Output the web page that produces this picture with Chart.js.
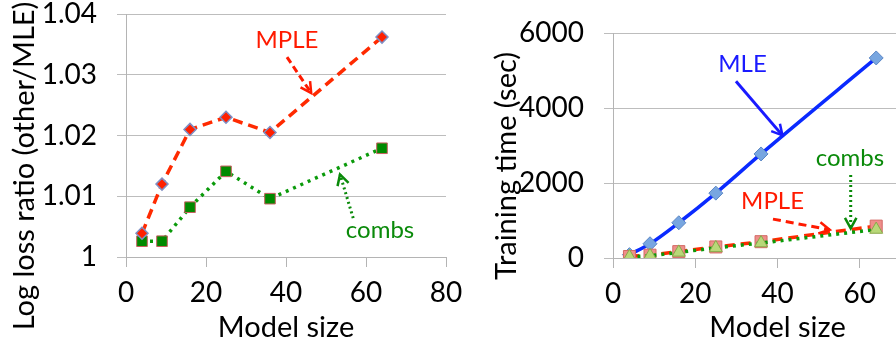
<!DOCTYPE html>
<html>
<head>
<meta charset="utf-8">
<script src="https://cdn.jsdelivr.net/npm/chart.js@4"></script>
<style>
  html, body { margin: 0; padding: 0; background: #fff; overflow: hidden; }
  #wrap { position: relative; width: 896px; height: 342px; overflow: hidden; }
  #left { position: absolute; left: 0; top: 0; }
  #right { position: absolute; left: 450px; top: 0; }
</style>
</head>
<body>
<div id="wrap">
  <canvas id="left" width="480" height="342"></canvas>
  <canvas id="right" width="510" height="342"></canvas>
</div>
<script>
// model sizes (x values, shared by both panels)
const modelSizes = [4, 9, 16, 25, 36, 64];

// left panel: log loss ratio
const ratioMPLE = [1.0039, 1.0120, 1.0210, 1.0230, 1.0205, 1.0362];
const ratioCombs = [1.0026, 1.0026, 1.0082, 1.0141, 1.0096, 1.0179];
const leftYTicks = [1, 1.01, 1.02, 1.03, 1.04];
const leftXTicks = [0, 20, 40, 60, 80];

// right panel: training time (sec)
const timeMLE = [90, 380, 940, 1730, 2775, 5335];
const timeMPLE = [40, 75, 170, 295, 435, 850];
const timeCombs = [30, 60, 150, 270, 400, 760];
const rightYTicks = [0, 2000, 4000, 6000];
const rightXTicks = [0, 20, 40, 60, 80];

const FONT = "Lato, 'Open Sans', sans-serif";

function pts(ys) {
  return modelSizes.map((x, i) => ({ x: x, y: ys[i] }));
}
function fixTicks(list) {
  return (scale) => { scale.ticks = list.map((v) => ({ value: v })); };
}

// labels with arrows, placed in data units
const leftNotes = [
  { text: "MPLE", color: "#ff1a00", at: [40.25, 1.0357], from: [40.25, 1.0329], to: [46.3, 1.0270], dash: [7, 4] },
  { text: "combs", color: "#0a8a0a", at: [63.5, 1.0044], from: [56.8, 1.0064], to: [53.5, 1.0136], dash: [2, 3] },
];
const rightNotes = [
  { text: "MLE", color: "#1a1aff", at: [31.5, 5170], from: [29.9, 4716], to: [41.2, 3270], dash: [] },
  { text: "combs", color: "#0a8a0a", at: [57.6, 2668], from: [57.8, 2216], to: [57.8, 790], dash: [2, 3] },
  { text: "MPLE", color: "#ff1a00", at: [38.8, 1506], from: [38.9, 1037], to: [52.7, 753], dash: [8, 5] },
];

const notesPlugin = {
  id: "notes",
  afterDatasetsDraw(chart) {
    const opts = chart.options.plugins.notes;
    const xs = chart.scales.x, ys = chart.scales.y;
    const ctx = chart.ctx;
    ctx.save();
    opts.items.forEach((n) => {
      const tx = xs.getPixelForValue(n.at[0]), ty = ys.getPixelForValue(n.at[1]);
      ctx.font = "24px " + FONT;
      ctx.fillStyle = n.color;
      ctx.textAlign = "center";
      ctx.textBaseline = "middle";
      ctx.fillText(n.text, tx, ty);

      const x1 = xs.getPixelForValue(n.from[0]), y1 = ys.getPixelForValue(n.from[1]);
      const x2 = xs.getPixelForValue(n.to[0]), y2 = ys.getPixelForValue(n.to[1]);
      ctx.strokeStyle = n.color;
      ctx.lineWidth = 3;
      ctx.setLineDash(n.dash);
      ctx.beginPath();
      ctx.moveTo(x1, y1);
      ctx.lineTo(x2, y2);
      ctx.stroke();
      ctx.setLineDash([]);
      const a = Math.atan2(y2 - y1, x2 - x1);
      const L = 12, w = 0.5;
      ctx.lineWidth = 2.5;
      ctx.beginPath();
      ctx.moveTo(x2 - L * Math.cos(a - w), y2 - L * Math.sin(a - w));
      ctx.lineTo(x2, y2);
      ctx.lineTo(x2 - L * Math.cos(a + w), y2 - L * Math.sin(a + w));
      ctx.stroke();
    });

    // vertical axis title, centred on the whole panel height like the original
    ctx.translate(ys.left + opts.titleOffset, chart.height / 2 - 5);
    ctx.rotate(-Math.PI / 2);
    ctx.font = "29px " + FONT;
    ctx.fillStyle = "#000";
    ctx.textAlign = "center";
    ctx.textBaseline = "middle";
    ctx.fillText(opts.yTitle, 0, 0);
    ctx.restore();
  },
};

function axes(cfg) {
  return {
    x: {
      type: "linear",
      min: cfg.xTicks[0],
      max: cfg.xTicks[cfg.xTicks.length - 1],
      afterBuildTicks: fixTicks(cfg.xTicks),
      afterFit: (s) => { s.height = cfg.xHeight; s.paddingLeft = 0; s.paddingRight = 0; },
      grid: { drawOnChartArea: false, drawTicks: true, tickLength: 10, color: "#b4b4b4" },
      border: { display: true, color: "#b4b4b4" },
      ticks: { color: "#000", padding: 12, maxRotation: 0, font: { family: FONT, size: 28, lineHeight: 1.0 } },
      title: { display: true, text: "Model size", color: "#000", padding: { top: 0, bottom: 0 },
               font: { family: FONT, size: 29, lineHeight: 1.0 } },
    },
    y: {
      min: cfg.yTicks[0],
      max: cfg.yTicks[cfg.yTicks.length - 1],
      afterBuildTicks: fixTicks(cfg.yTicks),
      afterFit: (s) => { s.width = cfg.yWidth; s.paddingTop = 0; s.paddingBottom = 0; },
      grid: { color: "#bdbdbd", tickLength: 9 },
      border: { display: true, color: "#b4b4b4" },
      ticks: { color: "#000", padding: 20, font: { family: FONT, size: 28, lineHeight: 1.0 },
               callback: cfg.fmt },
    },
  };
}

new Chart(document.getElementById("left"), {
  type: "line",
  data: {
    datasets: [
      {
        label: "MPLE", data: pts(ratioMPLE), order: 0,
        borderColor: "#ff2a00", borderWidth: 3.5, borderDash: [10, 6],
        pointStyle: "rectRot", pointRadius: 6, pointBackgroundColor: "#ff2000",
        pointBorderColor: "#7f8fc4", pointBorderWidth: 1.5,
      },
      {
        label: "combs", data: pts(ratioCombs), order: 1,
        borderColor: "#0a9a0a", borderWidth: 3.5, borderDash: [3, 5],
        pointStyle: "rect", pointRadius: 7.5, pointBackgroundColor: "#008a00",
        pointBorderColor: "#c86060", pointBorderWidth: 1,
      },
    ],
  },
  options: {
    responsive: false, animation: false,
    layout: { padding: { top: 14, right: 34, left: 0, bottom: 0 } },
    plugins: {
      legend: { display: false }, tooltip: { enabled: false },
      notes: { items: leftNotes, yTitle: "Log loss ratio (other/MLE)", titleOffset: 25 },
    },
    scales: axes({
      xTicks: leftXTicks, yTicks: leftYTicks, xHeight: 85, yWidth: 126,
      fmt: (v) => (v === 1 ? "1" : v.toFixed(2)),
    }),
  },
  plugins: [notesPlugin],
});

new Chart(document.getElementById("right"), {
  type: "line",
  data: {
    datasets: [
      {
        label: "MLE", data: pts(timeMLE), order: 2,
        borderColor: "#0a2aff", borderWidth: 3.5, cubicInterpolationMode: "monotone",
        pointStyle: "rectRot", pointRadius: 7, pointBackgroundColor: "#78a6e0",
        pointBorderColor: "#5a86c4", pointBorderWidth: 1,
      },
      {
        label: "MPLE", data: pts(timeMPLE), order: 1,
        borderColor: "#ff2a00", borderWidth: 3.5, borderDash: [10, 6],
        pointStyle: "rect", pointRadius: 8.5, pointBackgroundColor: "#ef8e8a",
        pointBorderColor: "#d46a66", pointBorderWidth: 1,
      },
      {
        label: "combs", data: pts(timeCombs), order: 0,
        borderColor: "#0a9a0a", borderWidth: 3.5, borderDash: [3, 5],
        pointStyle: "triangle", pointRadius: 7.5, pointBackgroundColor: "#b8d878",
        pointBorderColor: "#8aa84a", pointBorderWidth: 1,
      },
    ],
  },
  options: {
    responsive: false, animation: false,
    layout: { padding: { top: 33, right: 18, left: 0, bottom: 0 } },
    plugins: {
      legend: { display: false }, tooltip: { enabled: false },
      notes: { items: rightNotes, yTitle: "Training time (sec)", titleOffset: 57 },
    },
    scales: axes({
      xTicks: rightXTicks, yTicks: rightYTicks, xHeight: 84, yWidth: 163,
      fmt: (v) => String(v),
    }),
  },
  plugins: [notesPlugin],
});
</script>
</body>
</html>
